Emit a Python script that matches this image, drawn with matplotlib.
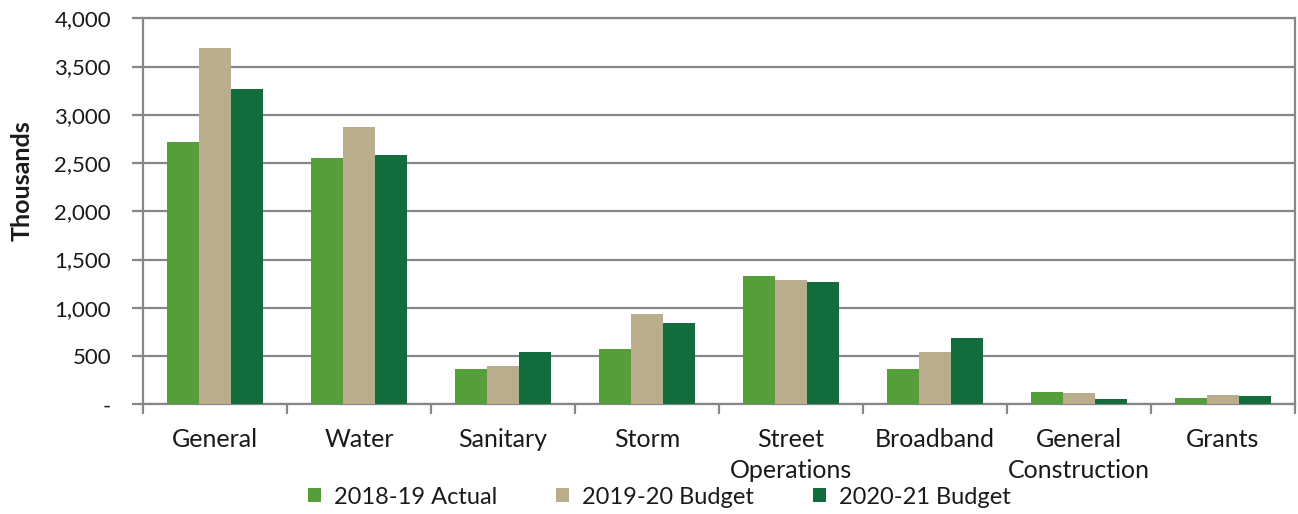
import matplotlib
matplotlib.use("Agg")
import matplotlib.pyplot as plt
import numpy as np
from matplotlib.ticker import FuncFormatter, FixedLocator

plt.rcParams['font.family'] = ['Lato', 'DejaVu Sans']

categories = ["General", "Water", "Sanitary", "Storm", "Street\nOperations",
              "Broadband", "General\nConstruction", "Grants"]
actual_1819 = [2715, 2549, 363, 573, 1330, 366, 127, 65]
budget_1920 = [3689, 2877, 394, 936, 1285, 539, 120, 96]
budget_2021 = [3267, 2583, 542, 843, 1264, 684, 52, 89]
series_names = ["2018-19 Actual", "2019-20 Budget", "2020-21 Budget"]
colors = ["#559E3A", "#B9AD8B", "#116E3C"]

fig = plt.figure(figsize=(12.98, 5.14), dpi=100)
ax = fig.add_axes([143 / 1298, 1 - 404.3 / 514, 1152 / 1298, 386 / 514])

x = np.arange(len(categories))
w = 2 / 9
for i, (vals, name, c) in enumerate(zip([actual_1819, budget_1920, budget_2021], series_names, colors)):
    ax.bar(x + (i - 1) * w, vals, width=w, color=c, label=name, zorder=3)

grid_c = "#878787"
text_c = "#1a1a1a"
ax.set_xlim(-0.5, len(categories) - 0.5)
ax.set_ylim(0, 4000)
ax.set_yticks(np.arange(0, 4001, 500))
ax.yaxis.set_major_formatter(FuncFormatter(lambda v, p: "-" if v == 0 else f"{v:,.0f}"))
ax.grid(axis="y", color=grid_c, linewidth=1.6, zorder=0)

# category boundaries carry the tick marks, labels sit at the centers
ax.xaxis.set_major_locator(FixedLocator(np.arange(-0.5, len(categories), 1)))
ax.xaxis.set_major_formatter(FuncFormatter(lambda v, p: ""))
ax.xaxis.set_minor_locator(FixedLocator(x))
ax.set_xticklabels(categories, minor=True, linespacing=1.4)
ax.tick_params(axis="x", which="major", length=7, width=1.6, color=grid_c, direction="out")
ax.tick_params(axis="x", which="minor", length=0, pad=17, labelsize=18, labelcolor=text_c)
ax.tick_params(axis="y", length=8, width=1.6, color=grid_c, pad=15, labelsize=16, labelcolor=text_c)

for s in ["left", "right", "bottom", "top"]:
    ax.spines[s].set_color(grid_c)
    ax.spines[s].set_linewidth(1.6)

fig.text(22.5 / 1298, 1 - 181 / 514, "Thousands", rotation=90, ha="center", va="center",
         fontsize=18, fontweight="bold", color=text_c)

fig.legend(loc="center", bbox_to_anchor=(659 / 1298, 1 - 497 / 514), ncol=3, frameon=False,
           fontsize=17, handlelength=0.55, handleheight=0.55, handletextpad=0.55,
           columnspacing=2.5, labelcolor=text_c, borderpad=0, borderaxespad=0)

fig.savefig("out.png", dpi=100)
